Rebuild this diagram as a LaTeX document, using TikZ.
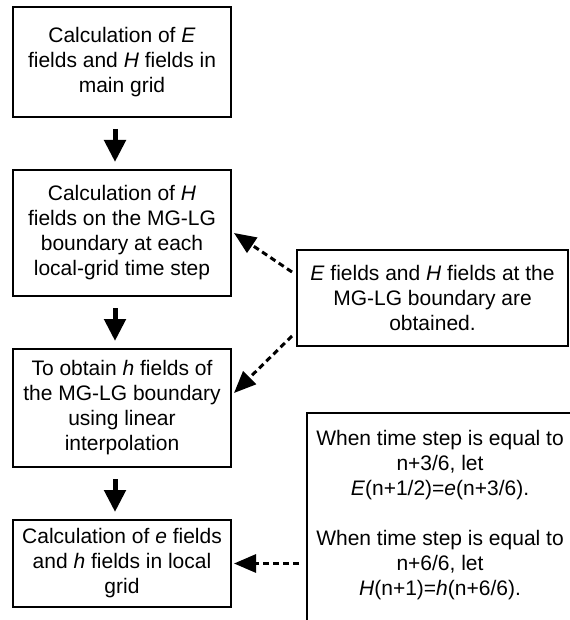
\documentclass[tikz,border=0pt]{standalone}
\usepackage{fontspec}
\setmainfont{Liberation Sans}
\usetikzlibrary{arrows.meta,positioning}
\tikzset{
  stepbox/.style={draw,line width=1pt,align=center,inner sep=0pt,
    minimum width=109pt,font=\fontsize{10.5}{12.5}\selectfont},
  notebox/.style={draw,line width=1pt,align=center,inner sep=0pt,
    font=\fontsize{10.5}{12.5}\selectfont},
  flowarr/.style={line width=2.5pt,-{Triangle[length=11pt,width=10.5pt]},
    shorten <=5.5pt,shorten >=3.5pt},
  dasharr/.style={line width=1.5pt,dash pattern=on 3pt off 2pt,
    -{Triangle[length=11pt,width=9pt]}}
}
\begin{document}
\begin{tikzpicture}[x=0.5pt,y=-0.5pt]
\useasboundingbox (0,0) rectangle (569,620);

% left column
\node (calcE) at (122,62) [stepbox,minimum height=55pt]
  {Calculation of \textit{E}\\ fields and \textit{H} fields in\\ main grid};
\node (calcH) at (122,233) [stepbox,minimum height=63pt]
  {Calculation of \textit{H}\\ fields on the MG-LG\\ boundary at each\\ local-grid time step};
\node (interp) at (122,408) [stepbox,minimum height=59pt]
  {To obtain \textit{h} fields of\\ the MG-LG boundary\\ using linear\\ interpolation};
\node (calclocal) at (122,563.5) [stepbox,minimum height=43.5pt]
  {Calculation of \textit{e} fields\\ and \textit{h} fields in local\\ grid};

% right column
\node (bound) at (432.5,298) [notebox,minimum width=135.5pt,minimum height=48pt]
  {\textit{E} fields and \textit{H} fields at the\\ MG-LG boundary are\\ obtained.};
\node (tstep) at (307,413) [anchor=north west,inner sep=0pt,minimum width=131pt,minimum height=103.5pt] {};
\draw[line width=1pt] (tstep.north east) -- (tstep.north west) -- (tstep.south west);
\node (tsteptext) at (440,515) [align=center,inner sep=0pt,font=\fontsize{10.5}{12.5}\selectfont]
  {When time step is equal to\\ n+3/6, let\\ \textit{E}(n+1/2)=\textit{e}(n+3/6).\\[12.5pt]
   When time step is equal to\\ n+6/6, let\\ \textit{H}(n+1)=\textit{h}(n+6/6).};

% main flow
\draw[flowarr] ([xshift=-3.5pt]calcE.south) -- ([xshift=-3.5pt]calcH.north);
\draw[flowarr] ([xshift=-3.5pt]calcH.south) -- ([xshift=-3.5pt]interp.north);
\draw[flowarr] ([xshift=-3.5pt]interp.south) -- ([xshift=-3.5pt]calclocal.north);

% dashed links
\draw[dasharr] ([xshift=-2pt,yshift=-11.5pt]bound.north west) -- ([xshift=1pt]calcH.east);
\draw[dasharr] ([xshift=-2pt,yshift=5.5pt]bound.south west) -- ([xshift=1pt,yshift=7.5pt]interp.east);
\draw[dasharr,shorten <=4pt] (calclocal.east -| tstep.west) -- ([xshift=1pt]calclocal.east);
\end{tikzpicture}
\end{document}
